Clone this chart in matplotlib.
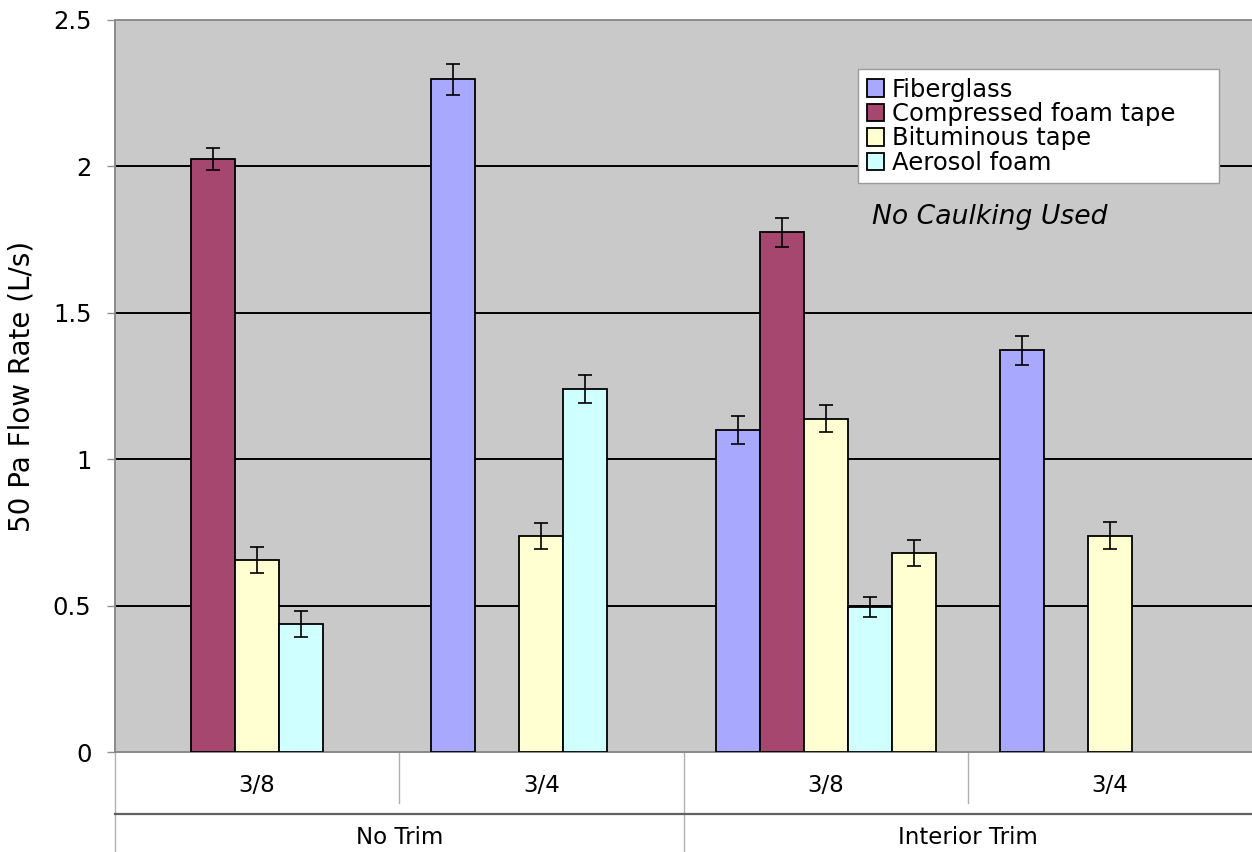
import numpy as np
import matplotlib
matplotlib.use("Agg")
import matplotlib.pyplot as plt
from matplotlib.lines import Line2D

# ---------------- data ----------------
sizes = ["3/8", "3/4", "3/8", "3/4"]
groups = ["No Trim", "Interior Trim"]
series_names = ["Fiberglass", "Compressed foam tape", "Bituminous tape", "Aerosol foam", ""]

fiberglass = [np.nan, 2.296, 1.100, 1.371]
compressed = [2.024, np.nan, 1.774, np.nan]
bituminous = [0.656, 0.737, 1.138, 0.739]
aerosol = [0.437, 1.239, 0.495, np.nan]
bituminous_b = [np.nan, np.nan, 0.681, np.nan]   # unlabeled fifth series

fiberglass_err = [np.nan, 0.052, 0.047, 0.048]
compressed_err = [0.038, np.nan, 0.050, np.nan]
bituminous_err = [0.044, 0.045, 0.046, 0.046]
aerosol_err = [0.044, 0.047, 0.033, np.nan]
bituminous_b_err = [np.nan, np.nan, 0.044, np.nan]

yticks = [0, 0.5, 1, 1.5, 2, 2.5]
ytick_labels = ["0", "0.5", "1", "1.5", "2", "2.5"]

# ---------------- style ----------------
colors = ["#A8A8FF", "#A5476F", "#FFFFD2", "#D0FFFF", "#FFFFD2"]
bg = "#C9C9C9"
plt.rcParams["font.family"] = ["DejaVu Sans"]

fig = plt.figure(figsize=(12.52, 8.52), dpi=100)
ax = fig.add_axes([115 / 1252, 1 - 752.2 / 852, 1137 / 1252, 732.5 / 852])
ax.set_facecolor(bg)

values = [fiberglass, compressed, bituminous, aerosol, bituminous_b]
errors = [fiberglass_err, compressed_err, bituminous_err, aerosol_err, bituminous_b_err]

n_slots = len(values)
width = 0.1548
x = np.arange(len(sizes))

handles = []
for k, (vals, errs, col) in enumerate(zip(values, errors, colors)):
    v = np.array(vals, dtype=float)
    e = np.array(errs, dtype=float)
    m = ~np.isnan(v)
    pos = x + (k - (n_slots - 1) / 2) * width
    b = ax.bar(pos[m], v[m], width=width, color=col, edgecolor="black",
               linewidth=1.3, zorder=3)
    ax.errorbar(pos[m], v[m], yerr=e[m], fmt="none", ecolor="black",
                elinewidth=1.2, capsize=5.2, capthick=1.2, zorder=4)
    if series_names[k]:
        handles.append((b, series_names[k]))

ax.set_xlim(-0.5, len(sizes) - 0.5)
ax.set_ylim(0, 2.5)
ax.set_yticks(yticks)
ax.set_yticklabels(ytick_labels, fontsize=17.5)
for yv in yticks[1:-1]:
    ax.axhline(yv, color="black", linewidth=1.4, zorder=1)

ax.tick_params(axis="y", direction="out", length=6, width=1, color="#909090",
               pad=11, labelcolor="black")
ax.tick_params(axis="x", bottom=False, labelbottom=False)

for s in ["left", "top", "bottom"]:
    ax.spines[s].set_color("#8A8A8A")
    ax.spines[s].set_linewidth(1.4)
ax.spines["right"].set_visible(False)

ax.set_ylabel("50 Pa Flow Rate (L/s)", fontsize=20)
ax.yaxis.set_label_coords(-0.0695, 0.5)

# ---------------- category axis (two levels) ----------------
tr = ax.get_xaxis_transform()
y_sep_short = (752.2 - 803) / 732.5
y_hline = (752.2 - 814) / 732.5
y_bottom = (752.2 - 852) / 732.5
y_lab1 = (752.2 - 786) / 732.5
y_lab2 = (752.2 - 837) / 732.5

for i, s in enumerate(sizes):
    ax.text(i, y_lab1, s, transform=tr, ha="center", va="center",
            fontsize=16.5, clip_on=False)
for g, gname in enumerate(groups):
    ax.text(2 * g + 0.5, y_lab2, gname, transform=tr, ha="center",
            va="center", fontsize=16.5, clip_on=False)

for xb in [0.5, 2.5]:
    ax.add_line(Line2D([xb, xb], [0, y_sep_short], transform=tr, color="#B0B0B0",
                       linewidth=1.0, clip_on=False))
for xb in [-0.5, 1.5]:
    ax.add_line(Line2D([xb, xb], [0, y_bottom], transform=tr, color="#B0B0B0",
                       linewidth=1.0, clip_on=False))
ax.add_line(Line2D([-0.5, len(sizes) - 0.5], [y_hline, y_hline], transform=tr,
                   color="#606060", linewidth=1.6, clip_on=False))

# ---------------- legend & note ----------------
x0 = (858 - 115) / 1137
x1 = (1219 - 115) / 1137
ytop = (752.2 - 69) / 732.5
leg = ax.legend([h for h, _ in handles], [n for _, n in handles],
                loc="upper left", bbox_to_anchor=(x0, ytop, x1 - x0, 0.0),
                mode="expand", borderaxespad=0, fontsize=17.5, frameon=True,
                fancybox=False, framealpha=1, edgecolor="#9A9A9A",
                handlelength=0.72, handleheight=0.72, handletextpad=0.32,
                labelspacing=0.02, borderpad=0.35)
leg.get_frame().set_linewidth(1.0)
leg.set_zorder(6)

ax.text((872 - 115) / 1137, (752.2 - 217) / 732.5, "No Caulking Used",
        transform=ax.transAxes, fontsize=19.2, style="italic",
        ha="left", va="center", zorder=6)

fig.savefig("out.png", dpi=100, facecolor="white")
